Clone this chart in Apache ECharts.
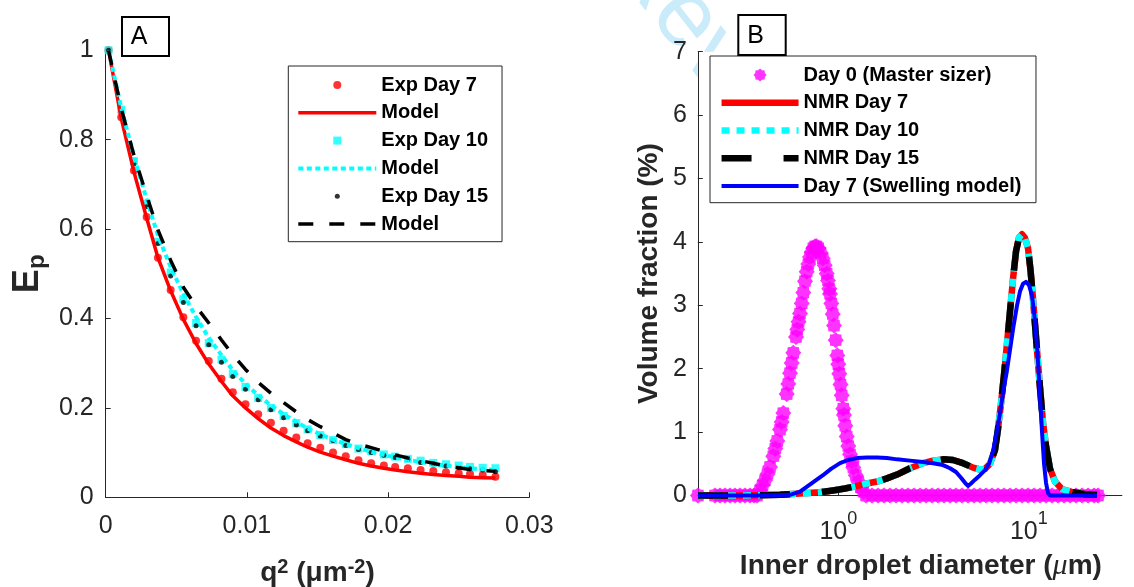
<!DOCTYPE html>
<html><head><meta charset="utf-8">
<script src="https://cdn.jsdelivr.net/npm/echarts@6/dist/echarts.min.js"></script>
<style>html,body{margin:0;padding:0;background:#fff}#c{width:1134px;height:587px}</style>
</head><body><div id="c"></div>
<script>
// ---------- Panel A data ----------
const qSquared = [0.0002, 0.0011, 0.0020, 0.0029, 0.0037, 0.0046, 0.0055, 0.0064, 0.0073, 0.0082, 0.0090, 0.0099, 0.0108, 0.0117, 0.0126, 0.0135, 0.0143, 0.0152, 0.0161, 0.0170, 0.0179, 0.0188, 0.0197, 0.0205, 0.0214, 0.0223, 0.0232, 0.0241, 0.0250, 0.0258, 0.0267, 0.0276];
const expDay7 = [1.0, 0.850, 0.731, 0.627, 0.536, 0.464, 0.403, 0.350, 0.305, 0.265, 0.235, 0.208, 0.186, 0.167, 0.149, 0.134, 0.121, 0.111, 0.100, 0.092, 0.083, 0.076, 0.071, 0.068, 0.065, 0.061, 0.059, 0.056, 0.054, 0.052, 0.050, 0.046];
const modelDay7 = [1.0, 0.848, 0.728, 0.625, 0.536, 0.462, 0.398, 0.344, 0.298, 0.259, 0.227, 0.200, 0.176, 0.155, 0.138, 0.124, 0.112, 0.101, 0.092, 0.084, 0.076, 0.070, 0.065, 0.061, 0.057, 0.054, 0.051, 0.049, 0.047, 0.045, 0.044, 0.043];
const expDay10 = [1.0, 0.867, 0.752, 0.656, 0.572, 0.503, 0.443, 0.390, 0.345, 0.308, 0.276, 0.247, 0.222, 0.200, 0.182, 0.166, 0.152, 0.139, 0.128, 0.119, 0.109, 0.103, 0.096, 0.091, 0.086, 0.082, 0.077, 0.074, 0.071, 0.068, 0.066, 0.065];
const modelDay10 = [1.0, 0.872, 0.762, 0.667, 0.585, 0.515, 0.455, 0.403, 0.357, 0.318, 0.284, 0.254, 0.228, 0.206, 0.186, 0.169, 0.154, 0.141, 0.129, 0.119, 0.110, 0.102, 0.095, 0.089, 0.084, 0.079, 0.075, 0.071, 0.068, 0.065, 0.063, 0.061];
const expDay15 = [1.0, 0.862, 0.746, 0.650, 0.568, 0.495, 0.436, 0.384, 0.341, 0.302, 0.270, 0.242, 0.218, 0.196, 0.178, 0.162, 0.149, 0.137, 0.127, 0.116, 0.107, 0.100, 0.094, 0.089, 0.085, 0.078, 0.075, 0.070, 0.066, 0.064, 0.061, 0.057];
const modelDay15 = [1.0, 0.870, 0.765, 0.675, 0.598, 0.530, 0.470, 0.427, 0.390, 0.352, 0.319, 0.286, 0.257, 0.233, 0.212, 0.191, 0.174, 0.158, 0.144, 0.129, 0.119, 0.111, 0.103, 0.095, 0.088, 0.082, 0.076, 0.070, 0.066, 0.062, 0.060, 0.058];

// ---------- Panel B data ----------
const masterDiam = [0.1834, 0.2253, 0.2393, 0.2542, 0.2701, 0.2869, 0.3048, 0.3237, 0.3440, 0.3610, 0.3743,
  0.3882, 0.4000, 0.4124, 0.4249, 0.4380, 0.4558, 0.4670, 0.4783, 0.4943, 0.5046, 0.5143, 0.5360, 0.5464, 0.5578, 0.5693, 0.5804, 0.5998, 0.6092, 0.6187, 0.6295, 0.6425, 0.6551, 0.6686, 0.6825, 0.6959, 0.7102, 0.7252, 0.7393, 0.7546,
  0.7693, 0.7852, 0.8067, 0.8284, 0.8483, 0.8693, 0.8829, 0.8971, 0.9046, 0.9190, 0.9346, 0.9493, 0.9691, 0.9880, 1.000, 1.012, 1.027, 1.042, 1.062, 1.071, 1.088, 1.107, 1.128, 1.152, 1.176, 1.199, 1.236, 1.274, 1.313, 1.353, 1.398,
  1.503, 1.616, 1.738, 1.868, 2.009, 2.160, 2.322, 2.497, 2.685, 2.887, 3.104, 3.337, 3.588, 3.858, 4.148, 4.460, 4.795, 5.156, 5.543, 5.960, 6.409, 6.890, 7.408, 7.966, 8.566, 9.211, 9.904, 10.65, 11.45, 12.31, 13.24, 14.23, 15.30, 16.46, 17.69, 19.03, 20.46, 22.00, 23.08];
const masterVol = [0, 0, 0, 0, 0, 0, 0, 0, 0, 0, 0,
  0.08, 0.16, 0.24, 0.34, 0.45, 0.62, 0.74, 0.86, 1.04, 1.16, 1.30, 1.60, 1.76, 1.93, 2.09, 2.25, 2.50, 2.62, 2.74, 2.87, 3.03, 3.20, 3.38, 3.53, 3.65, 3.76, 3.84, 3.90, 3.93,
  3.93, 3.90, 3.83, 3.74, 3.63, 3.50, 3.39, 3.26, 3.18, 3.03, 2.86, 2.68, 2.45, 2.21, 2.07, 1.92, 1.75, 1.58, 1.37, 1.27, 1.10, 0.93, 0.78, 0.65, 0.54, 0.44, 0.32, 0.22, 0.13, 0.06, 0,
  0, 0, 0, 0, 0, 0, 0, 0, 0, 0, 0, 0, 0, 0, 0, 0, 0, 0, 0, 0, 0, 0, 0, 0, 0, 0, 0, 0, 0, 0, 0, 0, 0, 0, 0, 0, 0, 0, 0];
const nmrDiam = [0.1834, 0.3048, 0.4943, 0.6295, 0.8015, 0.938, 1.084, 1.254, 1.415, 1.597, 1.801, 2.033, 2.379, 2.784, 3.142, 3.545, 4.001, 4.514, 5.094, 5.543, 5.890, 6.255, 6.645, 6.890, 7.145, 7.408, 7.683, 7.966, 8.261, 8.566, 8.883, 9.211, 9.552, 9.904, 10.21, 10.52, 10.84, 11.18, 11.52, 11.87, 12.31, 12.92, 13.72, 14.94, 17.06, 19.72, 22.80];
const nmrDay7 = [0, 0, 0.01, 0.03, 0.05, 0.08, 0.11, 0.15, 0.19, 0.22, 0.27, 0.33, 0.43, 0.51, 0.55, 0.57, 0.56, 0.51, 0.44, 0.41, 0.42, 0.50, 0.72, 1.05, 1.45, 1.90, 2.40, 2.90, 3.42, 3.85, 4.07, 4.12, 4.06, 3.90, 3.55, 3.10, 2.60, 2.08, 1.60, 1.15, 0.78, 0.42, 0.22, 0.10, 0.05, 0.02, 0.01];
const nmrDay10 = [0, 0, 0.01, 0.03, 0.05, 0.08, 0.11, 0.15, 0.19, 0.22, 0.27, 0.33, 0.43, 0.51, 0.55, 0.57, 0.56, 0.51, 0.44, 0.41, 0.42, 0.50, 0.72, 1.05, 1.45, 1.90, 2.40, 2.90, 3.42, 3.85, 4.07, 4.12, 4.06, 3.90, 3.55, 3.10, 2.60, 2.08, 1.60, 1.15, 0.78, 0.42, 0.22, 0.10, 0.05, 0.02, 0.01];
const nmrDay15 = [0, 0, 0.01, 0.03, 0.05, 0.08, 0.11, 0.15, 0.19, 0.22, 0.27, 0.33, 0.43, 0.51, 0.55, 0.57, 0.56, 0.51, 0.44, 0.41, 0.42, 0.50, 0.72, 1.05, 1.45, 1.90, 2.40, 2.90, 3.42, 3.85, 4.07, 4.12, 4.06, 3.90, 3.55, 3.10, 2.60, 2.08, 1.60, 1.15, 0.78, 0.42, 0.22, 0.10, 0.05, 0.02, 0.01];
const swellDiam = [0.1834, 0.3882, 0.5578, 0.6295, 0.6850, 0.7546, 0.8312, 0.9156, 1.021, 1.124, 1.254, 1.415, 1.597, 1.801, 2.033, 2.379, 2.784, 3.142, 3.545, 3.858, 4.148, 4.407, 4.625, 4.795, 4.972, 5.219, 5.543, 5.890, 6.180, 6.487, 6.808, 7.060, 7.320, 7.656, 7.966, 8.290, 8.671, 8.991, 9.324, 9.667, 10.02, 10.39, 10.65, 10.91, 11.18, 11.45, 11.73, 12.02, 12.31, 12.61, 12.92, 16.46, 22.80];
const swellDay7 = [0, 0, 0.01, 0.06, 0.14, 0.23, 0.32, 0.42, 0.51, 0.56, 0.59, 0.60, 0.60, 0.59, 0.57, 0.55, 0.53, 0.51, 0.48, 0.43, 0.37, 0.28, 0.20, 0.15, 0.19, 0.25, 0.32, 0.40, 0.50, 0.70, 1.02, 1.30, 1.62, 1.95, 2.30, 2.65, 3.00, 3.22, 3.34, 3.37, 3.32, 3.15, 2.90, 2.55, 2.10, 1.55, 1.00, 0.50, 0.20, 0.04, 0, 0, 0];

// ---------- rendering ----------
const FONT = '"Liberation Sans", Arial, Helvetica, sans-serif';
const AX = '#262626';
const pairs = (xs, ys) => xs.map((x, i) => [x, ys[i]]);
const STAR = 'path://M10,0L13.06,2.61L17.07,2.93L17.39,6.94L20,10L17.39,13.06L17.07,17.07L13.06,17.39L10,20L6.94,17.39L2.93,17.07L2.61,13.06L0,10L2.61,6.94L2.93,2.93L6.94,2.61Z';
const SMALL_DOT = 'path://M0,0M8,8M4,1.5A2.5,2.5,0,1,1,4,6.5A2.5,2.5,0,1,1,4,1.5Z';
const SQUARE = 'path://M0,0L8,0L8,8L0,8Z';

const axisLine = {show: true, onZero: false, lineStyle: {color: AX, width: 1}};
const axisTick = {show: true, inside: true, length: 5, lineStyle: {color: AX, width: 1}};
const tickFont = {color: AX, fontFamily: FONT, fontSize: 25};

const legendText = {fontFamily: FONT, fontSize: 20, fontWeight: 'bold', color: '#000', lineHeight: 22};

const option = {
  animation: false,
  backgroundColor: '#fff',
  grid: [
    {left: 105.7, right: 604.7, top: 50.3, bottom: 89.7, containLabel: false, outerBoundsMode: 'none'},
    {left: 697.8, right: 12.1, top: 51.7, bottom: 91.5, containLabel: false, outerBoundsMode: 'none',
     show: true, backgroundColor: '#fff', borderWidth: 0, borderColor: 'transparent'}
  ],
  xAxis: [
    {gridIndex: 0, type: 'value', min: 0, max: 0.03, interval: 0.01,
     axisLine, axisTick, splitLine: {show: false},
     axisLabel: Object.assign({margin: 16}, tickFont),
     name: '{a|q}{s|2}{a| (μm}{s|-2}{a|)}', nameLocation: 'middle', nameGap: 59.7,
     nameTextStyle: {color: AX, rich: {
       a: {fontFamily: FONT, fontSize: 28, fontWeight: 'bold', color: AX, lineHeight: 30, verticalAlign: 'bottom'},
       s: {fontFamily: FONT, fontSize: 20, fontWeight: 'bold', color: AX, lineHeight: 16, verticalAlign: 'top'}}}},
    {gridIndex: 1, type: 'log', logBase: 10, min: 0.183, max: 30.8,
     axisLine, axisTick, splitLine: {show: false}, minorTick: {show: false},
     axisLabel: {margin: 15, showMinLabel: false, showMaxLabel: false,
       formatter: function (v) {
         const l = Math.log10(v), e = Math.round(l);
         if (Math.abs(l - e) > 1e-6) return '';
         return '{b|10}{s|' + e + '}';
       },
       rich: {
         b: {fontFamily: FONT, fontSize: 25, color: AX, lineHeight: 34, verticalAlign: 'bottom'},
         s: {fontFamily: FONT, fontSize: 18, color: AX, lineHeight: 18, verticalAlign: 'top'}}},
     name: '{a|Inner droplet diameter (}{m|μ}{a|m)}', nameLocation: 'middle', nameGap: 56,
     nameTextStyle: {color: AX, padding: [0, 0, 0, 22], rich: {
       a: {fontFamily: FONT, fontSize: 28, fontWeight: 'bold', color: AX, lineHeight: 30},
       m: {fontFamily: '"Liberation Serif", "DejaVu Serif", serif', fontSize: 30, fontStyle: 'italic', color: AX, lineHeight: 30}}}}
  ],
  yAxis: [
    {gridIndex: 0, type: 'value', min: 0, max: 1, interval: 0.2,
     axisLine, axisTick, splitLine: {show: false},
     axisLabel: Object.assign({margin: 12}, tickFont),
     name: '{a|E}{b|p}', nameLocation: 'middle', nameGap: 56,
     nameTextStyle: {color: AX, rich: {
       a: {fontFamily: FONT, fontSize: 36, fontWeight: 'bold', color: AX, lineHeight: 38, verticalAlign: 'top'},
       b: {fontFamily: FONT, fontSize: 24, fontWeight: 'bold', color: AX, lineHeight: 40, verticalAlign: 'bottom'}}}},
    {gridIndex: 1, type: 'value', min: 0, max: 7, interval: 1,
     axisLine, axisTick, splitLine: {show: false},
     axisLabel: Object.assign({margin: 11}, tickFont),
     name: 'Volume fraction (%)', nameLocation: 'middle', nameGap: 33.8,
     nameTextStyle: {fontFamily: FONT, fontSize: 28, fontWeight: 'bold', color: AX, lineHeight: 30}}
  ],
  legend: [
    {left: 288.3, top: 66, orient: 'vertical', itemWidth: 78, itemHeight: 8, itemGap: 5.8,
     padding: [8, 14, 6.7, 8], borderColor: AX, borderWidth: 1, backgroundColor: '#fff',
     selectedMode: false, textStyle: legendText, lineStyle: {width: 'inherit', type: 'inherit'},
     formatter: n => (n.indexOf('Model') === 0 ? 'Model' : n),
     data: [
       {name: 'Exp Day 7'},
       {name: 'Model7', itemStyle: {opacity: 0}},
       {name: 'Exp Day 10', icon: SQUARE},
       {name: 'Model10', itemStyle: {opacity: 0}},
       {name: 'Exp Day 15', icon: SMALL_DOT},
       {name: 'Model15', itemStyle: {opacity: 0}}
     ]},
    {left: 710, top: 56, orient: 'vertical', itemWidth: 77, itemHeight: 13, itemGap: 5.75,
     padding: [8, 14.6, 5.7, 8.3], borderColor: AX, borderWidth: 1, backgroundColor: '#fff',
     selectedMode: false, textStyle: legendText, lineStyle: {width: 'inherit', type: 'inherit'},
     data: [
       {name: 'Day 0 (Master sizer)'},
       {name: 'NMR Day 7', itemStyle: {opacity: 0}},
       {name: 'NMR Day 10', itemStyle: {opacity: 0}},
       {name: 'NMR Day 15', itemStyle: {opacity: 0}},
       {name: 'Day 7 (Swelling model)', itemStyle: {opacity: 0}}
     ]}
  ],
  series: [
    {type: 'scatter', name: 'Exp Day 7', xAxisIndex: 0, yAxisIndex: 0, data: pairs(qSquared, expDay7),
     symbol: 'circle', symbolSize: 8, itemStyle: {color: '#ff0000'}, clip: false, silent: true},
    {type: 'line', name: 'Model7', xAxisIndex: 0, yAxisIndex: 0, data: pairs(qSquared, modelDay7),
     symbol: 'none', itemStyle: {color: '#ff0000'}, lineStyle: {color: '#ff0000', width: 3.5}, clip: false, silent: true},
    {type: 'scatter', name: 'Exp Day 10', xAxisIndex: 0, yAxisIndex: 0, data: pairs(qSquared, expDay10),
     symbol: 'rect', symbolSize: 8, itemStyle: {color: '#00ffff'}, clip: false, silent: true},
    {type: 'line', name: 'Model10', xAxisIndex: 0, yAxisIndex: 0, data: pairs(qSquared, modelDay10),
     symbol: 'none', itemStyle: {color: '#00ffff'}, lineStyle: {color: '#00ffff', width: 4, type: [5, 3.5], cap: 'butt'}, clip: false, silent: true},
    {type: 'scatter', name: 'Exp Day 15', xAxisIndex: 0, yAxisIndex: 0, data: pairs(qSquared, expDay15),
     symbol: 'circle', symbolSize: 5, itemStyle: {color: '#000000'}, clip: false, silent: true},
    {type: 'line', name: 'Model15', xAxisIndex: 0, yAxisIndex: 0, data: pairs(qSquared, modelDay15),
     symbol: 'none', itemStyle: {color: '#000000'}, lineStyle: {color: '#000000', width: 3.5, type: [15, 16], cap: 'butt'}, clip: false, silent: true},

    {type: 'scatter', name: 'Day 0 (Master sizer)', xAxisIndex: 1, yAxisIndex: 1, data: pairs(masterDiam, masterVol),
     symbol: STAR, symbolSize: 16, itemStyle: {color: '#ff00ff'}, clip: false, silent: true},
    {type: 'line', name: 'NMR Day 7', xAxisIndex: 1, yAxisIndex: 1, data: pairs(nmrDiam, nmrDay7),
     symbol: 'none', itemStyle: {color: '#ff0000'}, lineStyle: {color: '#ff0000', width: 6.5, join: 'round'}, clip: false, silent: true},
    {type: 'line', name: 'NMR Day 10', xAxisIndex: 1, yAxisIndex: 1, data: pairs(nmrDiam, nmrDay10),
     symbol: 'none', itemStyle: {color: '#00ffff'}, lineStyle: {color: '#00ffff', width: 6.5, type: [8, 7], cap: 'butt', join: 'round'}, clip: false, silent: true},
    {type: 'line', name: 'NMR Day 15', xAxisIndex: 1, yAxisIndex: 1, data: pairs(nmrDiam, nmrDay15),
     symbol: 'none', itemStyle: {color: '#000000'}, lineStyle: {color: '#000000', width: 6.5, type: [30, 32], cap: 'butt', join: 'round'}, clip: false, silent: true},
    {type: 'line', name: 'Day 7 (Swelling model)', xAxisIndex: 1, yAxisIndex: 1, data: pairs(swellDiam, swellDay7),
     symbol: 'none', itemStyle: {color: '#0000ff'}, lineStyle: {color: '#0000ff', width: 4, join: 'round'}, clip: false, silent: true}
  ],
  graphic: [
    {type: 'text', z: -10, silent: true, x: 627, y: -56, rotation: -52 * Math.PI / 180,
     style: {text: 'Review', font: '95px "Liberation Sans", Arial, sans-serif', fill: '#c9ebfa',
             textAlign: 'left', textVerticalAlign: 'middle', align: 'left', verticalAlign: 'middle'}},
    {type: 'rect', z: 100, silent: true, shape: {x: 122, y: 17, width: 47, height: 39},
     style: {fill: '#fff', stroke: '#000', lineWidth: 2}},
    {type: 'text', z: 101, silent: true, x: 139, y: 37,
     style: {text: 'A', font: '25px "Liberation Sans", Arial, sans-serif', fill: '#000',
             textAlign: 'center', textVerticalAlign: 'middle', align: 'center', verticalAlign: 'middle'}},
    {type: 'rect', z: 100, silent: true, shape: {x: 738.3, y: 15, width: 47.4, height: 40},
     style: {fill: '#fff', stroke: '#000', lineWidth: 2}},
    {type: 'text', z: 101, silent: true, x: 755.5, y: 36.5,
     style: {text: 'B', font: '25px "Liberation Sans", Arial, sans-serif', fill: '#000',
             textAlign: 'center', textVerticalAlign: 'middle', align: 'center', verticalAlign: 'middle'}}
  ]
};

const chart = echarts.init(document.getElementById('c'), null, {renderer: 'canvas', width: 1134, height: 587});
chart.setOption(option);
</script>
</body></html>
